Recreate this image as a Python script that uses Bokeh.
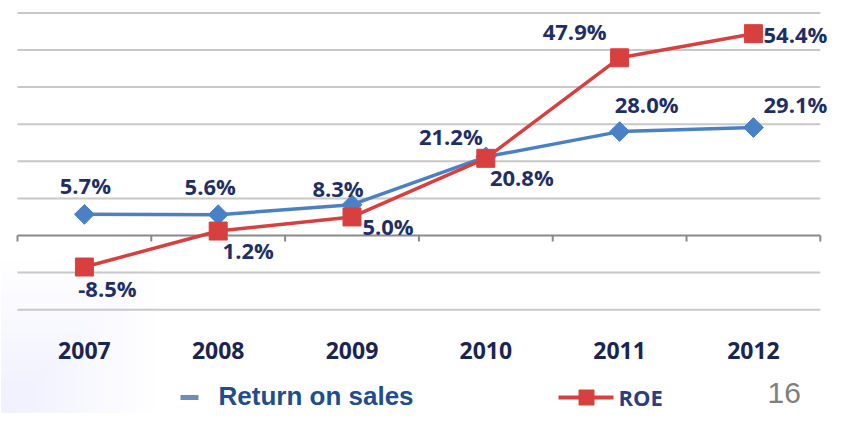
import numpy as np
from bokeh.plotting import figure
from bokeh.models import Range1d, ColumnDataSource
from bokeh.core.properties import value
from bokeh.embed import file_html
from bokeh.resources import INLINE

# ---- data ----
years = ["2007", "2008", "2009", "2010", "2011", "2012"]
return_on_sales = [5.7, 5.6, 8.3, 21.2, 28.0, 29.1]
roe = [-8.5, 1.2, 5.0, 20.8, 47.9, 54.4]
grid_values = [-20, -10, 10, 20, 30, 40, 50, 60]
legend_labels = ["Return on sales", "ROE"]
page_number = "16"

# ---- label placement (screen px offsets, styling only) ----
ros_dx = [1, -8, -14, -35, 27, 42]
ros_dy = [-29, -29, -17, -21, -28, -24]
roe_dx = [23, 30, 36, 36, -45, 42]
roe_dy = [21, 19, 9, 19, -27, 0]

W, H = 830, 413
X0, X1 = -0.127, 6.076
Y0, Y1 = -47.98, 63.34

p = figure(width=W, height=H, x_range=Range1d(X0, X1), y_range=Range1d(Y0, Y1),
           output_backend="svg", toolbar_location=None,
           x_axis_type=None, y_axis_type=None,
           min_border=0, min_border_left=0, min_border_right=0,
           min_border_top=0, min_border_bottom=0)
p.outline_line_color = None
p.background_fill_color = "white"
p.border_fill_color = "white"

n = len(years)
xs = [i + 0.5 for i in range(n)]
bounds = list(range(n + 1))


def dxp(px):
    return X0 + px / W * (X1 - X0)


def dyp(py):
    return Y1 - py / H * (Y1 - Y0)


# faint bluish backdrop at the lower left
for k in range(15):
    p.quad(left=[dxp(0)], right=[dxp(15 + k * 10)], bottom=[Y0], top=[dyp(400 - k * 10)],
           fill_color="#A8C4EA", fill_alpha=0.011, line_color=None)

# gridlines
p.segment(x0=[0] * len(grid_values), x1=[n] * len(grid_values), y0=grid_values, y1=grid_values,
          line_color="#C8C8C8", line_width=2)
# zero axis line + ticks
p.segment(x0=[0], y0=[0], x1=[n], y1=[0], line_color="#8A8A8A", line_width=2)
p.segment(x0=bounds, y0=[0] * len(bounds), x1=bounds, y1=[-1.6] * len(bounds),
          line_color="#8A8A8A", line_width=2)

# series
blue = "#4A80C6"
red = "#D8403F"
p.line(xs, return_on_sales, line_color=blue, line_width=3.5)
p.scatter(xs, return_on_sales, marker="square", angle=np.pi / 4, size=14,
          fill_color=blue, line_color=blue)
p.line(xs, roe, line_color=red, line_width=3.5)
p.scatter(xs, roe, marker="square", size=18, fill_color=red, line_color=red)

label_color = "#1F2F66"
src_ros = ColumnDataSource(dict(x=xs, y=return_on_sales,
                                t=[f"{v:.1f}%" for v in return_on_sales], dx=ros_dx, dy=ros_dy))
src_roe = ColumnDataSource(dict(x=xs, y=roe,
                                t=[f"{v:.1f}%" for v in roe], dx=roe_dx, dy=roe_dy))
for s in (src_ros, src_roe):
    p.text(x="x", y="y", text="t", x_offset="dx", y_offset="dy", source=s,
           text_font=value("Open Sans"), text_font_size="22px", text_font_style="bold",
           text_color=label_color, text_align="center", text_baseline="middle")

# year labels
p.text(x=xs, y=[-31] * n, text=years, text_font=value("Open Sans"), text_font_size="23px",
       text_font_style="bold", text_color="#1A2552", text_align="center", text_baseline="middle")

# ---- legend & page number ----
p.segment(x0=[dxp(180)], x1=[dxp(198)], y0=[dyp(397)], y1=[dyp(397)], line_color="#6D8DB8", line_width=5)
p.text(x=[dxp(218)], y=[dyp(395)], text=[legend_labels[0]], text_font=value("Liberation Sans"),
       text_font_size="26px", text_font_style="bold", text_color="#1F4E8C",
       text_align="left", text_baseline="middle")
p.segment(x0=[dxp(558)], x1=[dxp(613)], y0=[dyp(397)], y1=[dyp(397)], line_color=red, line_width=4)
p.scatter([dxp(586)], [dyp(397)], marker="square", size=15, fill_color=red, line_color=red)
p.text(x=[dxp(618)], y=[dyp(396)], text=[legend_labels[1]], text_font=value("Open Sans"),
       text_font_size="22px", text_font_style="bold", text_color="#2B3E7E",
       text_align="left", text_baseline="middle")
p.text(x=[dxp(767)], y=[dyp(392)], text=[page_number], text_font=value("Liberation Sans"),
       text_font_size="30px", text_color="#7F7F7F", text_align="left", text_baseline="middle")

open("out.html", "w").write(file_html(p, INLINE))
